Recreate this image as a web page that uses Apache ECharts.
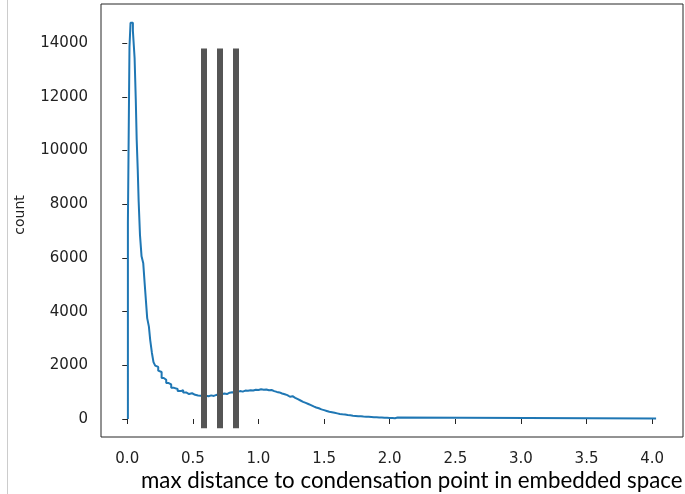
<!DOCTYPE html>
<html>
<head>
<meta charset="utf-8">
<script src="https://cdn.jsdelivr.net/npm/echarts@6/dist/echarts.min.js"></script>
<style>
  html, body { margin: 0; padding: 0; background: #fff; }
  #chart { width: 685px; height: 494px; }
</style>
</head>
<body>
<div id="chart"></div>
<script>
// Histogram of max distance to condensation point (step outline).
// binEdges[i]..binEdges[i+1] holds binCounts[i].
const binEdges = [
  0.005, 0.017, 0.025, 0.043, 0.056, 0.065, 0.072, 0.080, 0.087, 0.097,
  0.109, 0.122, 0.132, 0.142, 0.152, 0.165, 0.175, 0.188, 0.200, 0.213,
  0.224, 0.236, 0.247, 0.262, 0.278, 0.297, 0.316, 0.335, 0.357, 0.384,
  0.410, 0.426, 0.449, 0.471, 0.494, 0.517, 0.540,
  0.56, 0.58, 0.60, 0.62, 0.64, 0.66, 0.68, 0.70, 0.72, 0.74,
  0.76, 0.78, 0.80, 0.82, 0.84, 0.86, 0.88, 0.90, 0.92, 0.94,
  0.96, 0.98, 1.00, 1.02, 1.04, 1.06, 1.08, 1.10, 1.12, 1.14,
  1.16, 1.18, 1.20, 1.22, 1.24, 1.26, 1.28, 1.30, 1.32, 1.34,
  1.36, 1.38, 1.40, 1.42, 1.44, 1.46, 1.48, 1.50, 1.52, 1.54,
  1.56, 1.58, 1.60, 1.62, 1.64, 1.66, 1.68, 1.70, 1.72, 1.74,
  1.76, 1.78, 1.80, 1.82, 1.84, 1.86, 1.88, 1.90, 1.92, 1.94,
  1.96, 1.98, 2.00, 2.02, 2.04, 2.06, 4.03
];
const binCounts = [
  7340, 13850, 14760, 14460, 13450, 11900, 10400, 9280, 8100, 6860,
  6060, 5800, 5100, 4430, 3760, 3440, 2940, 2460, 2120, 1990,
  1940, 1800, 1750, 1530, 1460, 1340, 1290, 1160, 1120, 1040,
  1080, 990, 930, 960, 900, 880, 870,
  860, 870, 850, 880, 860, 900, 880, 920, 950, 930,
  980, 1000, 970, 1010, 1040, 1020, 1060, 1050, 1070, 1060,
  1090, 1080, 1110, 1090, 1100, 1070, 1080, 1040, 1010, 990,
  950, 920, 890, 830, 850, 790, 740, 690, 640, 600,
  560, 520, 470, 430, 400, 360, 330, 300, 270, 250,
  230, 210, 190, 175, 165, 150, 140, 125, 115, 105,
  100, 90, 85, 80, 75, 70, 65, 60, 55, 50,
  45, 40, 35, 30, 55, 20
];

// Vertical marker lines (x position, bottom and top counts)
const markerX = [0.585, 0.707, 0.829];
const markerBottom = -340;
const markerTop = 13800;

// Axis ticks
const xTicks = [0, 0.5, 1, 1.5, 2, 2.5, 3, 3.5, 4];
const yTicks = [0, 2000, 4000, 6000, 8000, 10000, 12000, 14000];

const xLabel = 'max distance to condensation point in embedded space';
const yLabel = 'count';

// Step outline points
const stepPoints = [[binEdges[0], 0]];
for (let i = 0; i < binCounts.length; i++) {
  stepPoints.push([binEdges[i], binCounts[i]]);
}
stepPoints.push([binEdges[binEdges.length - 1], binCounts[binCounts.length - 1]]);

const tickFont = { fontFamily: 'DejaVu Sans', fontSize: 15, color: '#222222' };

const chart = echarts.init(document.getElementById('chart'), null, { renderer: 'canvas' });
chart.setOption({
  animation: false,
  backgroundColor: '#ffffff',
  grid: {
    left: 101, right: 2, top: 4, bottom: 57,
    show: true, borderColor: '#262626', borderWidth: 1, backgroundColor: 'transparent'
  },
  xAxis: {
    type: 'value', min: -0.2, max: 4.235,
    axisLine: { show: false },
    splitLine: { show: false },
    axisTick: { show: true, customValues: xTicks, length: 5, lineStyle: { color: '#262626' } },
    axisLabel: Object.assign({
      customValues: xTicks, margin: 15,
      formatter: v => Number(v).toFixed(1)
    }, tickFont)
  },
  yAxis: {
    type: 'value', min: -670, max: 15460,
    axisLine: { show: false },
    splitLine: { show: false },
    axisTick: { show: true, customValues: yTicks, length: 5, lineStyle: { color: '#262626' } },
    axisLabel: Object.assign({
      customValues: yTicks, margin: 13,
      formatter: v => String(Math.round(v))
    }, tickFont)
  },
  series: [
    {
      type: 'line', step: 'end', data: stepPoints, showSymbol: false, symbol: 'none',
      lineStyle: { color: '#1f77b4', width: 2 }, z: 2
    },
    {
      type: 'line', data: [], z: 3,
      markLine: {
        silent: true, symbol: 'none', label: { show: false },
        lineStyle: { color: '#555555', width: 6, type: 'solid' },
        data: markerX.map(x => [{ coord: [x, markerBottom] }, { coord: [x, markerTop] }])
      }
    }
  ],
  graphic: [
    {
      type: 'line', shape: { x1: 7.5, y1: 0, x2: 7.5, y2: 494 },
      style: { stroke: '#cccccc', lineWidth: 1 }
    },
    {
      type: 'text', x: 20, y: 215, rotation: Math.PI / 2,
      style: {
        text: yLabel, fontFamily: 'DejaVu Sans', fontSize: 14, fill: '#222222',
        align: 'center', verticalAlign: 'middle'
      }
    },
    {
      type: 'text', x: 141, y: 481,
      style: {
        text: xLabel, fontFamily: 'Lato', fontSize: 22.3, fill: '#000000',
        align: 'left', verticalAlign: 'middle'
      }
    }
  ]
});
</script>
</body>
</html>
